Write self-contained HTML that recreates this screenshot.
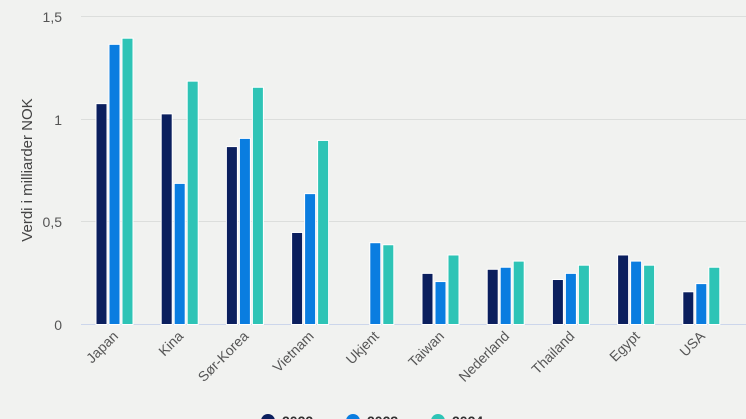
<!DOCTYPE html>
<html><head><meta charset="utf-8"><style>
body{margin:0;background:#f1f2f0;}
svg{display:block;font-family:"Liberation Sans",sans-serif;}
</style></head><body>
<svg width="746" height="419" viewBox="0 0 746 419">
<rect width="746" height="419" fill="#f1f2f0"/>
<g stroke="#dcdedc" stroke-width="1">
<line x1="81" x2="746" y1="16.5" y2="16.5"/>
<line x1="81" x2="746" y1="119.5" y2="119.5"/>
<line x1="81" x2="746" y1="221.5" y2="221.5"/>
</g>
<line x1="81" x2="746" y1="324.5" y2="324.5" stroke="#ccd6eb"/>
<g font-size="14" fill="#555" text-anchor="end">
<text x="62" y="22">1,5</text>
<text x="62" y="125">1</text>
<text x="62" y="227">0,5</text>
<text x="62" y="330">0</text>
</g>
<text transform="translate(32,170) rotate(-90)" font-size="15" fill="#444" text-anchor="middle">Verdi i milliarder NOK</text>
<g id="bars" stroke="#fff" stroke-width="1"></g>
<g id="labels" font-size="14" fill="#555" text-anchor="end"></g>
<g font-size="14" fill="#333" font-weight="bold">
<circle cx="268" cy="421" r="7" fill="#0b1f5e"/><text x="282" y="426">2022</text>
<circle cx="353" cy="421" r="7" fill="#0a7de0"/><text x="367" y="426">2023</text>
<circle cx="438" cy="421" r="7" fill="#2ec4b6"/><text x="452" y="426">2024</text>
</g>
</svg>
<script>
const d=[["Japan",1.08,1.37,1.4],["Kina",1.03,0.69,1.19],["Sør-Korea",0.87,0.91,1.16],["Vietnam",0.45,0.64,0.9],["Ukjent",0,0.4,0.39],["Taiwan",0.25,0.21,0.34],["Nederland",0.27,0.28,0.31],["Thailand",0.22,0.25,0.29],["Egypt",0.34,0.31,0.29],["USA",0.16,0.2,0.28]];
const c=["#0b1f5e","#0a7de0","#2ec4b6"];
const ns="http://www.w3.org/2000/svg";
const b=document.getElementById("bars"),l=document.getElementById("labels");
d.forEach((r,i)=>{const cx=114+i*65.2;
for(let k=0;k<3;k++){const v=r[k+1];if(!v)continue;const h=v*204.5;const e=document.createElementNS(ns,"rect");
e.setAttribute("x",cx-18+k*13);e.setAttribute("y",324.5-h);e.setAttribute("width",11);e.setAttribute("height",h);e.setAttribute("fill",c[k]);b.appendChild(e);}
const t=document.createElementNS(ns,"text");t.setAttribute("transform",`translate(${cx+5},${337}) rotate(-45)`);t.textContent=r[0];l.appendChild(t);});
</script>
</body></html>
